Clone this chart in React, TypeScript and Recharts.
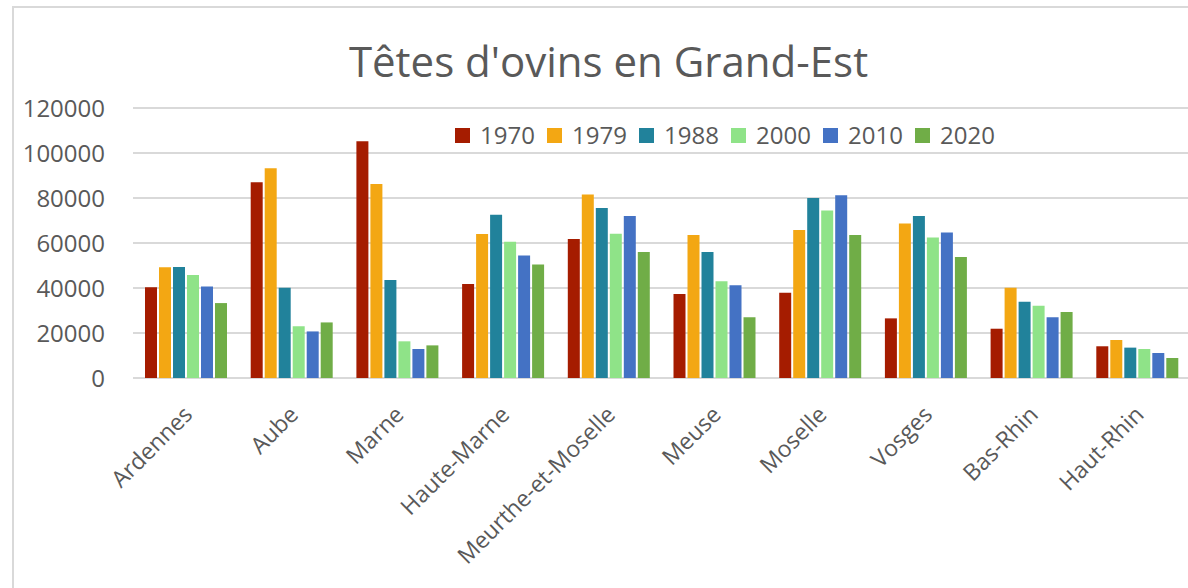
import React from 'react';
import { BarChart, Bar, XAxis, YAxis, CartesianGrid } from 'recharts';

const departements = [
  'Ardennes', 'Aube', 'Marne', 'Haute-Marne', 'Meurthe-et-Moselle',
  'Meuse', 'Moselle', 'Vosges', 'Bas-Rhin', 'Haut-Rhin',
];

const years = ['1970', '1979', '1988', '2000', '2010', '2020'];

const v1970 = [40300, 87000, 105200, 41800, 61800, 37300, 37900, 26500, 21900, 14100];
const v1979 = [49200, 93200, 86200, 64000, 81600, 63600, 65800, 68700, 40100, 16900];
const v1988 = [49300, 40100, 43600, 72600, 75600, 56000, 80000, 72000, 33900, 13500];
const v2000 = [45800, 23000, 16300, 60600, 64100, 43000, 74400, 62400, 32100, 12900];
const v2010 = [40700, 20700, 12900, 54500, 72000, 41200, 81200, 64700, 27000, 11100];
const v2020 = [33300, 24700, 14500, 50500, 56000, 27000, 63600, 53800, 29300, 8900];

const yTicks = [0, 20000, 40000, 60000, 80000, 100000, 120000];

const COLORS = ['#a51c00', '#f3a713', '#21829b', '#8fe388', '#4472c4', '#70ad47'];

const series = [v1970, v1979, v1988, v2000, v2010, v2020];

const data = departements.map((name, i) => {
  const row: Record<string, string | number> = { name };
  years.forEach((y, k) => {
    row[y] = series[k][i];
  });
  return row;
});

const FONT = '"Open Sans", sans-serif';
const GREY = '#595959';

const XTick = (props: any) => {
  const { x, y, payload } = props;
  return (
    <g transform={`translate(${x + 8},${y + 30})`}>
      <text textAnchor="end" transform="rotate(-45)" fill={GREY} fontSize={23} fontFamily={FONT}>
        {payload.value}
      </text>
    </g>
  );
};

// legend drawn as plain html so it does not eat plot space
const LegendBox = () => (
  <div style={{ position: 'absolute', left: 455, top: 120, display: 'flex', fontFamily: FONT, fontSize: 24, color: GREY, lineHeight: '30px' }}>
    {years.map((y, i) => (
      <div key={y} style={{ display: 'flex', alignItems: 'center', width: 92 }}>
        <span style={{ display: 'inline-block', width: 15, height: 15, background: COLORS[i], marginRight: 10 }} />
        <span>{y}</span>
      </div>
    ))}
  </div>
);

export default function App() {
  return (
    <div style={{ position: 'absolute', left: 0, top: 0, width: 1188, height: 588, overflow: 'hidden', background: '#fff' }}>
      <div style={{ position: 'absolute', left: 12, top: 6, width: 1400, height: 800, borderLeft: '2px solid #d9d9d9', borderTop: '2px solid #d9d9d9' }} />
      <div style={{ position: 'absolute', left: 0, top: 40, width: 1217, textAlign: 'center', fontFamily: FONT, fontSize: 42, lineHeight: '42px', color: GREY }}>
        Têtes d'ovins en Grand-Est
      </div>
      <div style={{ position: 'absolute', left: 0, top: 0 }}>
        <BarChart
          width={1200}
          height={588}
          data={data}
          margin={{ top: 108, right: 10, bottom: 0, left: 0 }}
          barCategoryGap={12}
          barGap={2}
        >
          <CartesianGrid vertical={false} stroke="#d9d9d9" strokeWidth={2} />
          <XAxis dataKey="name" axisLine={false} tickLine={false} interval={0} height={210} tick={<XTick />} />
          <YAxis
            width={133}
            domain={[0, 120000]}
            ticks={yTicks}
            axisLine={false}
            tickLine={false}
            tickSize={0}
            tickMargin={28}
            tick={{ fill: GREY, fontSize: 24, fontFamily: FONT }}
          />
          {years.map((y, i) => (
            <Bar key={y} dataKey={y} fill={COLORS[i]} isAnimationActive={false} />
          ))}
        </BarChart>
      </div>
      <LegendBox />
    </div>
  );
}
